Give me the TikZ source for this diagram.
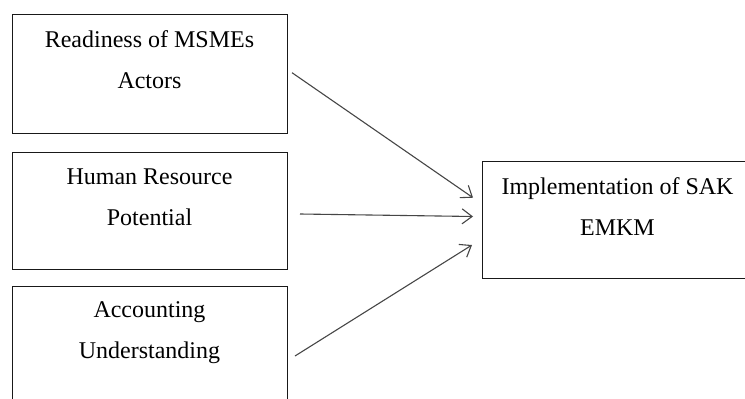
\documentclass[tikz,border=0pt]{standalone}
\usepackage{fontspec}
\setmainfont{Liberation Serif}
\usetikzlibrary{positioning}
\usetikzlibrary{arrows.meta}
\definecolor{linegray}{RGB}{70,70,70}
\definecolor{boxblack}{RGB}{25,25,25}

\begin{document}
\begin{tikzpicture}[x=1pt,y=-1pt,
	box/.style={draw=boxblack,line width=1.4pt,anchor=north west,inner sep=0pt,minimum width=275pt},
	label text/.style={anchor=north,align=center,inner sep=0pt,font=\fontsize{24}{41}\selectfont},
	link/.style={linegray,line width=1.1pt,-{Straight Barb[length=10pt,width=15pt]}}]
	\useasboundingbox (0,0) rectangle (745,399);
	\clip (0,0) rectangle (745,399);
	
	% left column
	\node [box,minimum height=119pt] (readiness) at (12,14) {};
	\node [box,minimum height=117pt] (human) at (12,152) {};
	\node [box,minimum height=130pt] (accounting) at (12,286) {};
	% right box, cut off at the page edge
	\node [box,minimum width=300pt,minimum height=117pt] (sak) at (482,161) {};
	
	\node [label text] (readinesstext) at (149.5,30) {Readiness of MSMEs\\Actors};
	\node [label text] (humantext) at (149.5,168.5) {Human Resource\\Potential};
	\node [label text] (accountingtext) at (149.5,301.5) {Accounting\\Understanding};
	\node [label text] (saktext) at (617.5,177.5) {Implementation of SAK\\EMKM};
	
	%\draw[link] (readiness.east) -- (sak.west);
	\coordinate [] (A) at (292,72.7);
	\coordinate [] (B) at (300,214);
	\coordinate [] (C) at (295,356);
	
	\coordinate [] (AA) at (473,197.7);
	\coordinate [] (BB) at (473,216.5);
	\coordinate [] (CC) at (472,245);
	
	\draw[link] (A) -- (AA);
	\draw[link] (B) -- (BB);
	\draw[link] (C) -- (CC);
	
\end{tikzpicture}
\end{document}
